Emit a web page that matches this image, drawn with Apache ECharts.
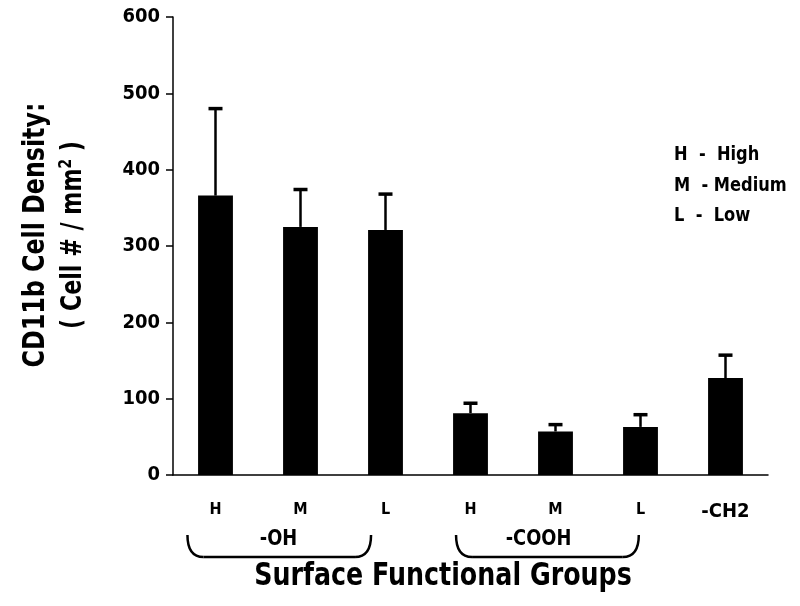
<html>
<head>
	<meta charset="utf-8">
</head>
<body style="margin:0">
	<div id="main" style="width:800px;height:606px;"></div>
	<script src="https://cdn.jsdelivr.net/npm/echarts@6/dist/echarts.min.js"></script>
	<script>
		var myChart = echarts.init(document.getElementById('main'), null, { renderer: 'canvas' });

		// data
		var categories = ['OH-H', 'OH-M', 'OH-L', 'COOH-H', 'COOH-M', 'COOH-L', 'CH2'];
		var tickLabels = ['H', 'M', 'L', 'H', 'M', 'L', '-CH2'];
		var means = [366, 325, 321, 81, 57, 63, 127];
		var errTop = [480, 374, 368, 94, 66, 79, 157];
		var yTicks = [0, 100, 200, 300, 400, 500, 600];

		var FONT = "'DejaVu Sans Condensed', 'Liberation Sans Narrow', sans-serif";

		var errData = categories.map(function (c, i) { return [i, means[i], errTop[i]]; });

		var option = {
			animation: false,
			grid: { left: 173, right: 32, top: 17, bottom: 131 },
			xAxis: {
				type: 'category',
				data: categories,
				axisLine: { lineStyle: { color: '#000', width: 1.5 } },
				axisTick: { show: false },
				axisLabel: {
					margin: 27,
					formatter: function (v, i) {
						return i === 6 ? '{b|' + tickLabels[i] + '}' : '{a|' + tickLabels[i] + '}';
					},
					rich: {
						a: { fontFamily: FONT, fontWeight: 'bold', fontSize: 16, color: '#000' },
						b: { fontFamily: FONT, fontWeight: 'bold', fontSize: 20, color: '#000', padding: [0, 0, 6, 0] }
					}
				}
			},
			yAxis: {
				type: 'value',
				min: yTicks[0],
				max: yTicks[yTicks.length - 1],
				interval: 100,
				splitLine: { show: false },
				axisLine: { show: true, lineStyle: { color: '#000', width: 1.5 } },
				axisTick: { show: true, length: 7, lineStyle: { color: '#000', width: 1.5 } },
				axisLabel: { margin: 13, fontFamily: FONT, fontWeight: 'bold', fontSize: 20, color: '#000' }
			},
			series: [
				{
					type: 'bar',
					data: means,
					barWidth: '41%',
					itemStyle: { color: '#000' }
				},
				{
					type: 'custom',
					data: errData,
					z: 1,
					renderItem: function (params, api) {
						var lo = api.coord([api.value(0), api.value(1)]);
						var hi = api.coord([api.value(0), api.value(2)]);
						var cap = 7;
						return {
							type: 'group',
							children: [
								{ type: 'line', shape: { x1: hi[0], y1: lo[1], x2: hi[0], y2: hi[1] }, style: { stroke: '#000', lineWidth: 2.5 } },
								{ type: 'line', shape: { x1: hi[0] - cap, y1: hi[1], x2: hi[0] + cap, y2: hi[1] }, style: { stroke: '#000', lineWidth: 3.5 } }
							]
						};
					}
				}
			]
		};
		myChart.setOption(option);

		// annotations placed from the category axis
		var c0 = myChart.convertToPixel({ xAxisIndex: 0 }, categories[0]);
		var c1 = myChart.convertToPixel({ xAxisIndex: 0 }, categories[1]);
		var band = c1 - c0;
		function px(i) { return c0 + i * band; }
		function brace(a, b) {
			var x1 = px(a), x2 = px(b), top = 535, bot = 557, r = 16;
			var st = { fill: null, stroke: '#000', lineWidth: 2.5 };
			return {
				type: 'group',
				children: [
					{ type: 'bezierCurve', shape: { x1: x1, y1: top, cpx1: x1, cpy1: bot, x2: x1 + r, y2: bot }, style: st },
					{ type: 'line', shape: { x1: x1 + r, y1: bot, x2: x2 - r, y2: bot }, style: st },
					{ type: 'bezierCurve', shape: { x1: x2 - r, y1: bot, cpx1: x2, cpy1: bot, x2: x2, y2: top }, style: st }
				]
			};
		}
		function txt(x, y, s, size, align, sx) {
			return {
				type: 'text', x: x, y: y, scaleX: sx || 0.85,
				style: { text: s, fontFamily: FONT, fontWeight: 'bold', fontSize: size, fill: '#000', align: align || 'center', verticalAlign: 'middle' }
			};
		}
		myChart.setOption({
			graphic: [
				brace(-0.33, 1.83),
				brace(2.83, 4.98),
				txt(px(1) - 22, 539, '-OH', 22, 'center', 0.9),
				txt(px(4) - 17, 539, '-COOH', 22, 'center', 0.9),
				txt(443, 577, 'Surface Functional Groups', 32, 'center', 0.88),
				txt(674, 155, 'H  -  High', 19, 'left', 0.95),
				txt(674, 186, 'M  - Medium', 19, 'left', 0.95),
				txt(674, 216, 'L  -  Low', 19, 'left', 0.95),
				{
					type: 'text', x: 36, y: 235, rotation: Math.PI / 2, scaleX: 0.88,
					style: { text: 'CD11b Cell Density:', fontFamily: FONT, fontWeight: 'bold', fontSize: 30, fill: '#000', align: 'center', verticalAlign: 'middle' }
				},
				{
					type: 'text', x: 73, y: 235, rotation: Math.PI / 2, scaleX: 0.85,
					style: {
						text: '{a|( Cell # / mm}{s|2}{a| )}',
						align: 'center', verticalAlign: 'middle',
						rich: {
							a: { fontFamily: FONT, fontWeight: 'bold', fontSize: 29, fill: '#000' },
							s: { fontFamily: FONT, fontWeight: 'bold', fontSize: 18, fill: '#000', padding: [0, 0, 14, 0] }
						}
					}
				}
			]
		});
	</script>
</body>
</html>
